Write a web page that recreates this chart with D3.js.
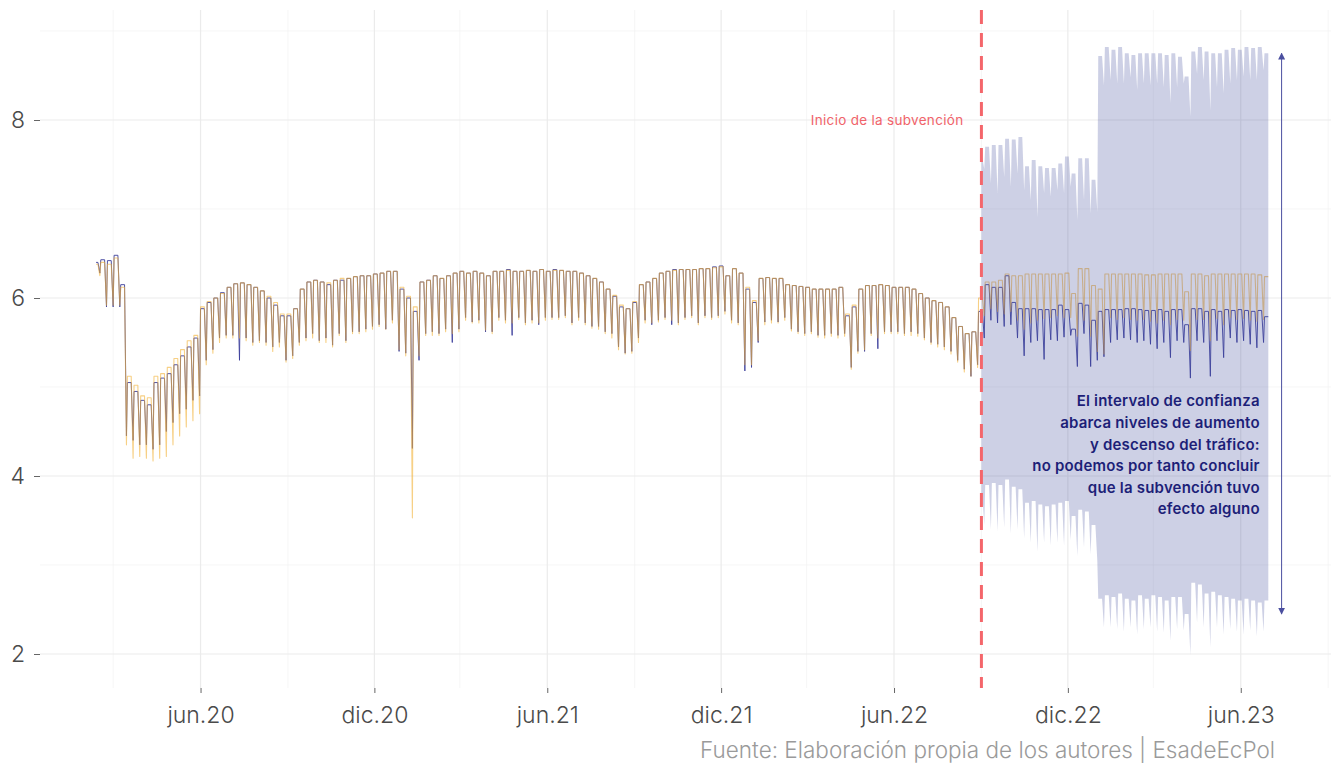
<!DOCTYPE html>
<html lang="es">
<head>
<meta charset="utf-8">
<script src="https://cdn.jsdelivr.net/npm/d3@7"></script>
<style>
  html, body { margin: 0; padding: 0; background: #ffffff; }
  svg { display: block; font-family: Inter, "Noto Sans", "DejaVu Sans", sans-serif; }
</style>
</head>
<body>
<svg id="chart" width="1331" height="765"></svg>
<script>
// ---- Data -------------------------------------------------------------
// Weekly readings (log of daily traffic). Week i starts on the Monday
// firstMonday + 7*i; "High" is the working-day level, "Low" the Sunday trough.
const firstMonday = "2020-02-10";
const seriesStart = "2020-02-12";
const seriesEnd = "2023-06-30";
const subsidyStart = "2022-09-01";

// observed traffic (navy)
const observedHigh = [
  6.40,6.43,6.42,6.48,6.15,5.05,4.95,4.85,4.80,5.05,
  5.10,5.15,5.25,5.35,5.45,5.55,5.88,5.95,6.00,6.06,
  6.12,6.16,6.17,6.15,6.12,6.08,6.00,5.92,5.80,5.80,
  5.88,6.10,6.18,6.20,6.18,6.15,6.20,6.20,6.22,6.24,
  6.25,6.25,6.27,6.28,6.30,6.30,6.10,6.00,5.85,6.18,
  6.20,6.25,6.22,6.25,6.28,6.30,6.28,6.30,6.28,6.25,
  6.30,6.30,6.32,6.30,6.30,6.31,6.30,6.32,6.30,6.32,
  6.31,6.30,6.30,6.28,6.25,6.22,6.18,6.10,6.02,5.90,
  5.88,5.95,6.15,6.18,6.22,6.28,6.30,6.32,6.32,6.32,
  6.32,6.33,6.33,6.35,6.36,6.25,6.33,6.28,6.10,5.95,
  6.22,6.23,6.22,6.22,6.15,6.14,6.13,6.12,6.10,6.10,
  6.10,6.10,6.12,5.80,5.90,6.10,6.14,6.14,6.15,6.14,
  6.12,6.12,6.12,6.10,6.05,6.00,5.97,5.95,5.90,5.78,
  5.68,5.60,5.62,5.85,6.15,6.12,6.12,6.25,5.95,5.88,
  5.88,5.88,5.87,5.87,5.87,5.92,5.87,5.65,5.94,5.92,
  5.75,5.85,5.87,5.87,5.87,5.88,5.88,5.87,5.86,5.86,
  5.87,5.85,5.87,5.87,5.70,5.88,5.88,5.85,5.87,5.85,
  5.87,5.86,5.87,5.86,5.85,5.86,5.79
];
const observedLow = [
  6.28,5.90,5.90,5.90,4.45,4.40,4.35,4.35,4.30,4.35,
  4.50,4.60,4.70,4.75,4.85,4.90,5.30,5.42,5.55,5.58,
  5.58,5.30,5.55,5.50,5.52,5.50,5.45,5.50,5.30,5.35,
  5.50,5.55,5.60,5.52,5.55,5.47,5.60,5.52,5.62,5.62,
  5.65,5.68,5.70,5.65,5.75,5.40,5.38,4.31,5.30,5.60,
  5.62,5.60,5.65,5.50,5.65,5.78,5.73,5.75,5.62,5.62,
  5.78,5.75,5.58,5.78,5.72,5.75,5.70,5.78,5.78,5.78,
  5.80,5.72,5.78,5.72,5.68,5.68,5.62,5.60,5.45,5.38,
  5.40,5.55,5.75,5.70,5.75,5.78,5.70,5.72,5.78,5.80,
  5.72,5.80,5.78,5.80,5.85,5.75,5.72,5.18,5.22,5.50,
  5.73,5.75,5.73,5.78,5.65,5.62,5.60,5.62,5.58,5.58,
  5.60,5.58,5.60,5.22,5.40,5.40,5.60,5.43,5.62,5.62,
  5.62,5.60,5.62,5.60,5.55,5.50,5.48,5.45,5.40,5.30,
  5.20,5.12,5.25,5.55,5.75,5.72,5.68,5.70,5.55,5.35,
  5.50,5.52,5.31,5.53,5.52,5.56,5.58,5.23,5.60,5.23,
  5.30,5.34,5.50,5.53,5.55,5.53,5.50,5.52,5.48,5.43,
  5.50,5.33,5.52,5.50,5.10,5.52,5.50,5.12,5.52,5.33,
  5.55,5.50,5.52,5.48,5.44,5.50,null
];

// model prediction (orange)
const predictedHigh = [
  6.38,6.40,6.38,6.45,6.12,5.12,5.02,4.90,4.88,5.12,
  5.15,5.22,5.32,5.42,5.52,5.58,5.90,5.96,6.00,6.05,
  6.12,6.16,6.17,6.15,6.12,6.08,6.02,5.95,5.82,5.82,
  5.88,6.10,6.18,6.20,6.18,6.17,6.20,6.22,6.22,6.24,
  6.25,6.25,6.27,6.28,6.30,6.30,6.12,6.02,5.90,6.18,
  6.20,6.25,6.22,6.25,6.28,6.30,6.28,6.30,6.28,6.25,
  6.30,6.30,6.31,6.30,6.30,6.31,6.30,6.32,6.30,6.31,
  6.31,6.30,6.30,6.28,6.25,6.22,6.18,6.10,6.03,5.92,
  5.88,5.96,6.15,6.18,6.22,6.28,6.30,6.31,6.32,6.32,
  6.32,6.33,6.33,6.34,6.35,6.25,6.33,6.28,6.12,5.97,
  6.22,6.23,6.22,6.22,6.15,6.14,6.13,6.12,6.10,6.10,
  6.10,6.10,6.12,5.82,5.92,6.10,6.14,6.14,6.15,6.14,
  6.12,6.12,6.12,6.10,6.05,6.00,5.97,5.95,5.90,5.78,
  5.68,5.60,5.62,6.00,6.18,6.18,6.20,6.27,6.25,6.25,
  6.27,6.27,6.27,6.27,6.27,6.27,6.28,6.05,6.33,6.33,
  6.14,6.10,6.27,6.27,6.27,6.27,6.27,6.27,6.26,6.26,
  6.27,6.27,6.27,6.27,6.07,6.27,6.27,6.25,6.27,6.27,
  6.27,6.27,6.27,6.27,6.27,6.26,6.24
];
const predictedLow = [
  6.25,5.92,5.92,5.92,4.35,4.20,4.22,4.20,4.17,4.20,
  4.22,4.35,4.45,4.55,4.62,4.70,5.25,5.38,5.50,5.55,
  5.55,5.55,5.52,5.47,5.50,5.47,5.40,5.45,5.28,5.32,
  5.47,5.52,5.55,5.50,5.50,5.45,5.58,5.50,5.60,5.60,
  5.62,5.65,5.68,5.65,5.72,5.42,5.35,3.53,5.35,5.58,
  5.58,5.58,5.62,5.60,5.62,5.75,5.72,5.72,5.64,5.60,
  5.75,5.72,5.72,5.76,5.70,5.72,5.72,5.75,5.76,5.76,
  5.78,5.70,5.75,5.70,5.66,5.65,5.60,5.55,5.42,5.37,
  5.38,5.50,5.72,5.72,5.73,5.76,5.75,5.70,5.76,5.78,
  5.70,5.78,5.76,5.78,5.82,5.72,5.70,5.25,5.25,5.52,
  5.70,5.72,5.72,5.75,5.63,5.60,5.58,5.60,5.56,5.55,
  5.57,5.55,5.57,5.20,5.38,5.42,5.58,5.55,5.60,5.60,
  5.60,5.58,5.58,5.57,5.53,5.48,5.45,5.42,5.37,5.28,
  5.17,5.12,5.22,5.80,5.88,5.85,5.82,5.85,5.75,5.65,
  5.72,5.75,5.77,5.78,5.80,5.78,5.78,5.57,5.75,5.57,
  5.40,5.37,5.78,5.76,5.78,5.76,5.75,5.76,5.74,5.72,
  5.75,5.70,5.76,5.75,5.41,5.76,5.76,5.52,5.77,5.70,
  5.78,5.76,5.77,5.75,5.74,5.76,null
];

// confidence interval of the prediction, from the week holding subsidyStart
const bandFirstWeek = 133;
const upperHigh = [
  7.57,7.70,7.72,7.72,7.79,7.78,7.81,7.48,7.55,7.48,
  7.46,7.46,7.51,7.59,7.40,7.57,7.57,7.33,
  8.72,8.82,8.79,8.82,8.75,8.73,8.75,8.75,8.75,8.75,
  8.73,8.75,8.71,8.49,8.77,8.82,8.77,8.75,8.75,8.79,
  8.81,8.79,8.82,8.81,8.82,8.75
];
const upperLow = [
  7.45,7.29,7.18,7.36,7.25,7.40,7.21,7.10,6.91,7.18,
  7.14,7.21,7.18,7.25,6.88,7.10,6.95,6.97,
  8.39,8.45,8.41,8.41,8.48,8.34,8.41,8.39,8.41,8.37,
  8.19,8.37,8.41,8.04,8.52,8.45,8.11,8.37,8.30,8.41,
  8.45,8.49,8.45,8.45,8.56,null
];
const lowerHigh = [
  3.80,3.90,3.92,3.90,3.96,3.88,3.85,3.70,3.72,3.68,
  3.66,3.68,3.70,3.72,3.55,3.62,3.60,3.45,
  2.62,2.66,2.64,2.68,2.62,2.60,2.66,2.62,2.66,2.64,
  2.60,2.64,2.64,2.45,2.80,2.78,2.68,2.70,2.66,2.64,
  2.62,2.60,2.62,2.60,2.58,2.60
];
const lowerLow = [
  3.45,3.40,3.38,3.42,3.35,3.40,3.30,3.25,3.15,3.25,
  3.22,3.25,3.22,3.28,3.10,3.20,3.12,3.05,
  2.30,2.30,2.28,2.25,2.30,2.22,2.28,2.30,2.25,2.24,
  2.15,2.28,2.26,1.99,2.35,2.30,2.08,2.30,2.22,2.28,
  2.25,2.22,2.26,2.20,2.25,null
];

// axes
const yTicks = [2, 4, 6, 8];
const yMinorTicks = [3, 5, 7, 9];
const xTickDates = ["2020-06-01","2020-12-01","2021-06-01","2021-12-01","2022-06-01","2022-12-01","2023-06-01"];
const xTickLabels = ["jun.20","dic.20","jun.21","dic.21","jun.22","dic.22","jun.23"];
const xMinorDates = ["2020-03-01","2020-09-01","2021-03-01","2021-09-01","2022-03-01","2022-09-01","2023-03-01","2023-09-01"];

// annotations
const subsidyLabel = "Inicio de la subvención";
const noteLines = [
  "El intervalo de confianza",
  "abarca niveles de aumento",
  "y descenso del tráfico:",
  "no podemos por tanto concluir",
  "que la subvención tuvo",
  "efecto alguno"
];
const arrowDate = "2023-07-14";
const arrowRange = [8.75, 2.45];
const noteDate = "2023-06-21";
const noteTop = 4.8;
const caption = "Fuente: Elaboración propia de los autores | EsadeEcPol";

// ---- Layout -----------------------------------------------------------
const panel = { left: 40, right: 1331, top: 10, bottom: 688 };

const parse = d3.utcParse("%Y-%m-%d");
const x = d3.scaleUtc()
  .domain([parse("2019-12-15"), parse("2023-09-04")])
  .range([panel.left, panel.right]);
const y = d3.scaleLinear()
  .domain([1.618, 9.236])
  .range([panel.bottom, panel.top]);

const svg = d3.select("#chart");

// Expands weekly readings into line vertices (Monday and Friday at the
// working-day level, Sunday at the trough), clipped to [from, to].
const monday0 = parse(firstMonday);
function weeklyPoints(hi, lo, weekOffset, from, to) {
  const pts = [];
  hi.forEach((h, k) => {
    const mon = d3.utcDay.offset(monday0, 7 * (weekOffset + k));
    pts.push({ date: mon, v: h });
    pts.push({ date: d3.utcDay.offset(mon, 4), v: h });
    if (lo[k] != null) pts.push({ date: d3.utcDay.offset(mon, 6), v: lo[k] });
  });
  const weekOf = d => Math.floor(d3.utcDay.count(monday0, d) / 7) - weekOffset;
  const inside = pts.filter(p => p.date >= from && p.date <= to);
  if (inside[0].date > from) inside.unshift({ date: from, v: hi[weekOf(from)] });
  if (inside[inside.length - 1].date < to) inside.push({ date: to, v: hi[weekOf(to)] });
  return inside;
}

const start = parse(seriesStart), end = parse(seriesEnd), subsidy = parse(subsidyStart);
const observed = weeklyPoints(observedHigh, observedLow, 0, start, end);
const predicted = weeklyPoints(predictedHigh, predictedLow, 0, start, end);
const upper = weeklyPoints(upperHigh, upperLow, bandFirstWeek, subsidy, end);
const lower = weeklyPoints(lowerHigh, lowerLow, bandFirstWeek, subsidy, end);
const band = upper.map((p, i) => ({ date: p.date, hi: p.v, lo: lower[i].v }));

// ---- Grid -------------------------------------------------------------
const grid = svg.append("g");
grid.selectAll("line.ymin").data(yMinorTicks).join("line")
  .attr("x1", panel.left).attr("x2", panel.right)
  .attr("y1", d => y(d)).attr("y2", d => y(d))
  .attr("stroke", "#f2f2f2").attr("stroke-width", 0.7);
grid.selectAll("line.xmin").data(xMinorDates).join("line")
  .attr("x1", d => x(parse(d))).attr("x2", d => x(parse(d)))
  .attr("y1", panel.top).attr("y2", panel.bottom)
  .attr("stroke", "#f2f2f2").attr("stroke-width", 0.7);
grid.selectAll("line.ymaj").data(yTicks).join("line")
  .attr("x1", panel.left).attr("x2", panel.right)
  .attr("y1", d => y(d)).attr("y2", d => y(d))
  .attr("stroke", "#ebebeb").attr("stroke-width", 1.2);
grid.selectAll("line.xmaj").data(xTickDates).join("line")
  .attr("x1", d => x(parse(d))).attr("x2", d => x(parse(d)))
  .attr("y1", panel.top).attr("y2", panel.bottom)
  .attr("stroke", "#ebebeb").attr("stroke-width", 1.2);

// ---- Axes -------------------------------------------------------------
const xAxis = svg.append("g")
  .attr("transform", `translate(0,${panel.bottom})`)
  .call(d3.axisBottom(x)
    .tickValues(xTickDates.map(parse))
    .tickFormat((d, i) => xTickLabels[i])
    .tickSize(5).tickPadding(14));
const yAxis = svg.append("g")
  .attr("transform", `translate(${panel.left},0)`)
  .call(d3.axisLeft(y).tickValues(yTicks).tickFormat(d3.format("d"))
    .tickSize(6).tickPadding(9));
[xAxis, yAxis].forEach(a => {
  a.select(".domain").remove();
  a.selectAll(".tick line").attr("stroke", "#555").attr("stroke-width", 0.9);
  a.selectAll(".tick text")
    .attr("fill", "#4a4a4a")
    .style("font-size", "23px")
    .style("font-weight", 300)
    .style("font-family", "Inter, 'Noto Sans', sans-serif");
});

// ---- Series -----------------------------------------------------------
const line = d3.line().x(d => x(d.date)).y(d => y(d.v));
svg.append("path").datum(observed)
  .attr("d", line).attr("fill", "none")
  .attr("stroke", "#3d409c").attr("stroke-width", 0.9)
  .attr("stroke-linejoin", "round");
svg.append("path").datum(predicted)
  .attr("d", line).attr("fill", "none")
  .attr("stroke", "#f2b134").attr("stroke-opacity", 0.6).attr("stroke-width", 1.1)
  .attr("stroke-linejoin", "round");

// confidence band over the post-subsidy period
const area = d3.area().x(d => x(d.date)).y0(d => y(d.lo)).y1(d => y(d.hi));
svg.append("path").datum(band)
  .attr("d", area)
  .attr("fill", "#3e4a9c").attr("fill-opacity", 0.26);

// ---- Annotations ------------------------------------------------------
svg.append("line")
  .attr("x1", x(subsidy)).attr("x2", x(subsidy))
  .attr("y1", panel.top).attr("y2", panel.bottom)
  .attr("stroke", "#f4666b").attr("stroke-width", 3)
  .attr("stroke-dasharray", "14 9");

svg.append("text")
  .attr("x", x(subsidy) - 18).attr("y", y(8) + 5)
  .attr("text-anchor", "end")
  .attr("fill", "#f0636a")
  .style("font-size", "13.5px")
  .style("letter-spacing", "0.3px")
  .text(subsidyLabel);

const defs = svg.append("defs");
defs.append("marker")
  .attr("id", "head").attr("viewBox", "0 0 10 10")
  .attr("refX", 9).attr("refY", 5)
  .attr("markerWidth", 7).attr("markerHeight", 7)
  .attr("markerUnits", "userSpaceOnUse")
  .attr("orient", "auto-start-reverse")
  .append("path").attr("d", "M0,0 L10,5 L0,10 Z").attr("fill", "#4b4f9f");

const ax = x(parse(arrowDate));
svg.append("line")
  .attr("x1", ax).attr("x2", ax)
  .attr("y1", y(arrowRange[0])).attr("y2", y(arrowRange[1]))
  .attr("stroke", "#4b4f9f").attr("stroke-width", 1)
  .attr("marker-start", "url(#head)").attr("marker-end", "url(#head)");

const nx = x(parse(noteDate));
svg.append("g").selectAll("text").data(noteLines).join("text")
  .attr("x", nx)
  .attr("y", (d, i) => y(noteTop) + 1.5 + i * 21.6)
  .attr("text-anchor", "end")
  .attr("fill", "#1d1f78")
  .style("font-size", "15px")
  .style("font-weight", 600)
  .style("letter-spacing", "0.2px")
  .text(d => d);

svg.append("text")
  .attr("x", 1275).attr("y", 758)
  .attr("text-anchor", "end")
  .attr("fill", "#9a9a9a")
  .style("font-size", "22.5px")
  .style("font-weight", 300)
  .text(caption);
</script>
</body>
</html>
